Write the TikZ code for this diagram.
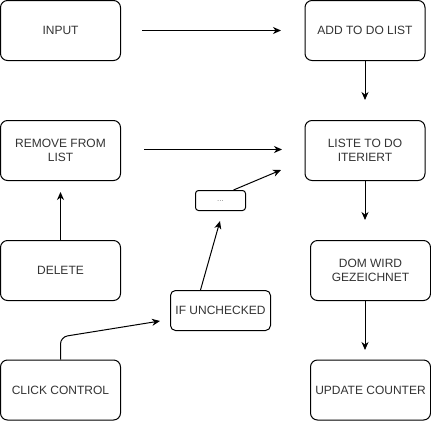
\documentclass[tikz,border=0pt]{standalone}
\usepackage{fontspec}
\setmainfont{Liberation Sans}
\usetikzlibrary{arrows.meta,calc}
\begin{document}
\begin{tikzpicture}[x=1pt,y=-1pt,
  box/.style={draw=black,line width=1pt,rounded corners=7pt,fill=white,
    minimum width=120pt,minimum height=60pt,inner sep=0pt,align=center,
    text=black!80,font=\fontsize{12pt}{14pt}\selectfont},
  smallbox/.style={box,rounded corners=5pt,minimum width=100pt,minimum height=40pt},
  tinybox/.style={box,rounded corners=3pt,minimum width=50pt,minimum height=20pt,
    text=black!50,font=\fontsize{8pt}{9pt}\selectfont},
  conn/.style={draw=black,line width=1pt,-{Stealth[length=8pt,width=7pt,inset=2.5pt]}}]
\useasboundingbox (0,0) rectangle (431,421);
\node[box] (input) at (60.5,30.5) {INPUT};
\node[box] (add) at (365,30.5) {ADD TO DO LIST};
\node[box] (remove) at (60.5,150.5) {REMOVE FROM\\LIST};
\node[box] (liste) at (365,150.5) {LISTE TO DO\\ITERIERT};
\node[box] (delete) at (60.5,270.5) {DELETE};
\node[box] (click) at (60.5,390) {CLICK CONTROL};
\node[box] (dom) at (370.5,270.5) {DOM WIRD\\GEZEICHNET};
\node[box] (update) at (370.5,390) {UPDATE COUNTER};
\node[smallbox] (ifun) at (220.5,310.5) {IF UNCHECKED};
\node[tinybox] (dots) at (220.5,200.5) {\raisebox{-2pt}{...}};
\coordinate (e1) at (281,30.5);
\coordinate (e2) at (282,149.5);
\coordinate (e3) at (281,170);
\coordinate (e4) at (365,220);
\coordinate (e5) at (365,350);
\coordinate (e6) at (220,221);
\coordinate (e7) at (160,321);
\coordinate (e8) at (60.5,192);
\coordinate (e9) at (365,100);
\draw[conn] ($(input.east)+(21,0)$) -- (e1);
\draw[conn] (add.south -| e9) -- (e9);
\draw[conn] ($(remove.east)+(23,-1)$) -- (e2);
\draw[conn] ($(dots.north)+(13,0)$) -- (e3);
\draw[conn] (liste.south -| e4) -- (e4);
\draw[conn] (dom.south -| e5) -- (e5);
\draw[conn] (delete.north) -- (e8);
\draw[conn] ($(ifun.north)+(-20,0)$) -- (e6);
\draw[conn,rounded corners=7pt] (click.north) -- (60.5,337) -- (e7);
\end{tikzpicture}
\end{document}
